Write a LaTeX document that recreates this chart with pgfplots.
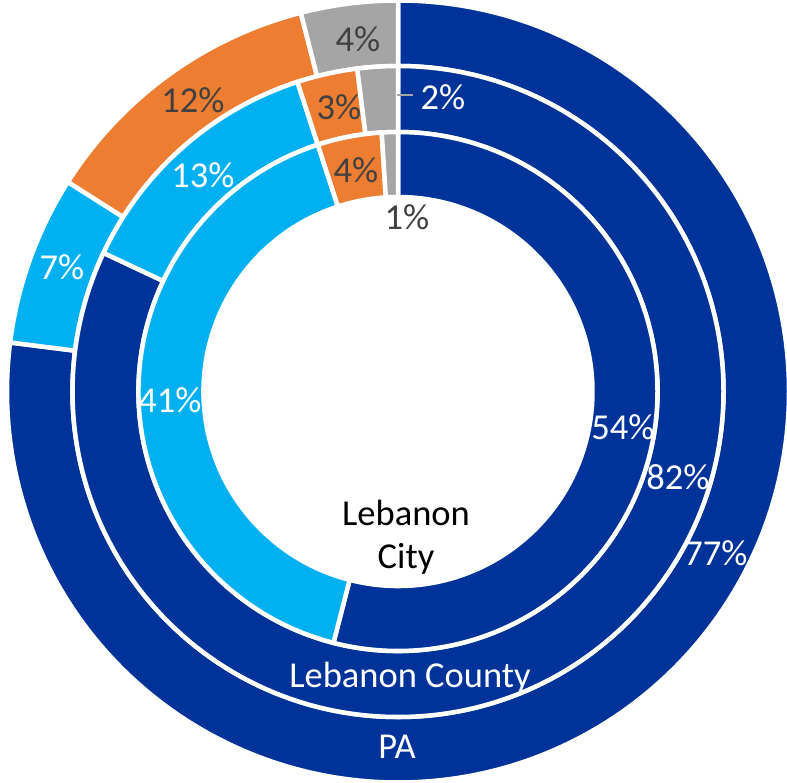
\documentclass[border=0pt]{standalone}
\usepackage{pgfplots}
\pgfplotsset{compat=1.18}
\usepackage{pgfplotstable}
\usepackage{fontspec}
\setmainfont{Carlito}

\definecolor{dblue}{RGB}{0,51,153}
\definecolor{lblue}{RGB}{0,176,240}
\definecolor{orng}{RGB}{237,125,49}
\definecolor{gry}{RGB}{165,165,165}
\definecolor{dtxt}{RGB}{64,64,64}

% shares, clockwise from the top
\pgfplotstableread{
value color
54 dblue
41 lblue
4  orng
1  gry
}\tblCity
\pgfplotstableread{
value color
82 dblue
13 lblue
3  orng
2  gry
}\tblCounty
\pgfplotstableread{
value color
77 dblue
7  lblue
12 orng
4  gry
}\tblPA

% #1 table, #2 inner radius, #3 outer radius
\newcommand\drawring[3]{%
  \def\acur{90}%
  \pgfplotstablegetrowsof{#1}%
  \pgfmathtruncatemacro\nr{\pgfplotsretval-1}%
  \pgfplotsforeachungrouped \i in {0,...,\nr}{%
    \pgfplotstablegetelem{\i}{value}\of{#1}\let\val\pgfplotsretval
    \pgfplotstablegetelem{\i}{color}\of{#1}\let\col\pgfplotsretval
    \pgfmathsetmacro\anext{\acur-3.6*\val}%
    \filldraw[overlay,fill=\col,draw=white,line width=4.5bp,line join=miter]
      (\acur:#3) arc[start angle=\acur,end angle=\anext,radius=#3]
      -- (\anext:#2) arc[start angle=\anext,end angle=\acur,radius=#2] -- cycle;
    \let\acur\anext
  }%
}
\newcommand\lf{\fontsize{36.5bp}{43bp}\selectfont}
\tikzset{lab/.style={inner sep=0pt, font=\lf}}

\begin{document}
\begin{tikzpicture}
\begin{axis}[
    width=787bp, height=783bp, scale only axis,
    hide axis, clip=false,
    xmin=-398, xmax=389, ymin=-391.5, ymax=391.5,
]
% picture frame = axis box
\path (axis cs:-398,-391.5) rectangle (axis cs:389,391.5);
\pgfplotsextra{
  \begin{scope}[shift={(axis cs:0,0)}, x=1bp, y=1bp]
    \drawring{\tblPA}{325.5}{391}
    \drawring{\tblCounty}{259.5}{325.5}
    \drawring{\tblCity}{194.5}{259.5}
  \end{scope}
}
% leader line of the 2% label
\draw[gry, line width=1.5bp] (axis cs:-1,296.5) -- (axis cs:15,296.5);

% inner ring
\node[lab, white] at (axis cs:225,-35.5) {54\%};
\node[lab, white] at (axis cs:-228,-8.5) {41\%};
\node[lab, dtxt] at (axis cs:-42,221.5) {4\%};
\node[lab, dtxt] at (axis cs:9,174.5) {1\%};
% middle ring
\node[lab, white] at (axis cs:280,-85.5) {82\%};
\node[lab, white] at (axis cs:-195,216.5) {13\%};
\node[lab, dtxt] at (axis cs:-59,284.5) {3\%};
\node[lab, white] at (axis cs:45,294.5) {2\%};
% outer ring
\node[lab, white] at (axis cs:318,-161.5) {77\%};
\node[lab, white] at (axis cs:-336,124.5) {7\%};
\node[lab, dtxt] at (axis cs:-205,291.5) {12\%};
\node[lab, dtxt] at (axis cs:-40,352.5) {4\%};
% ring names
\node[lab, black, align=center] at (axis cs:8,-146) {Lebanon\\City};
\node[lab, white] at (axis cs:12,-286) {Lebanon County};
\node[lab, white] at (axis cs:-1,-355.5) {PA};
\end{axis}
\end{tikzpicture}
\end{document}
